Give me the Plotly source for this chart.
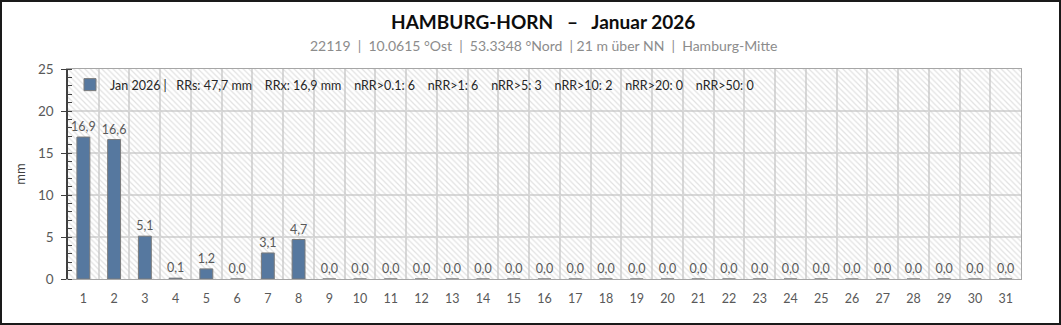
import plotly.graph_objects as go

days = list(range(1, 32))
rain = [16.9, 16.6, 5.1, 0.1, 1.2, 0.0, 3.1, 4.7, 0.0, 0.0,
        0.0, 0.0, 0.0, 0.0, 0.0, 0.0, 0.0, 0.0, 0.0, 0.0,
        0.0, 0.0, 0.0, 0.0, 0.0, 0.0, 0.0, 0.0, 0.0, 0.0, 0.0]
title = "HAMBURG-HORN \u00a0 \u2013 \u00a0 Januar 2026"
subtitle = "22119 \u00a0|\u00a0 10.0615 \u00b0Ost \u00a0|\u00a0 53.3348 \u00b0Nord \u00a0| 21 m \u00fcber NN \u00a0|\u00a0 Hamburg-Mitte"
legend_label = ("Jan 2026 | \u00a0 RRs: 47,7 mm \u00a0 \u00a0RRx: 16,9 mm \u00a0 \u00a0nRR>0.1: 6 \u00a0 \u00a0nRR>1: 6"
                " \u00a0 \u00a0nRR>5: 3 \u00a0 \u00a0nRR>10: 2 \u00a0 \u00a0nRR>20: 0 \u00a0 \u00a0nRR>50: 0")
y_title = "mm"

W, H = 1061, 325
ML, MR, MT, MB = 68, 40, 69, 46
PW, PH = W - ML - MR, H - MT - MB
FONT = "Lato"
GREY = "#595959"
CENTER_PX = 543

def px_x(px):
    return (px - ML) / PW

def px_y(py):
    return (H - MB - py) / PH

fig = go.Figure()

# hatched background on the (hidden) base subplot
fig.add_trace(go.Scatter(
    x=[0, 1, 1, 0, 0], y=[0, 0, 1, 1, 0], xaxis="x", yaxis="y",
    mode="lines", line=dict(width=0), fill="toself",
    fillcolor="rgba(0,0,0,0)",
    fillpattern=dict(shape="\\", fgcolor="#c4c4c4", bgcolor="rgba(0,0,0,0)",
                     size=4, solidity=0.3),
    hoverinfo="skip", showlegend=False))

fig.add_trace(go.Bar(
    x=days, y=rain, xaxis="x2", yaxis="y2", name=legend_label,
    marker=dict(color="#56789f", line=dict(color="#7a7a7a", width=1)),
    width=0.42,
    texttemplate="%{y:.1f}", textposition="outside", cliponaxis=False,
    constraintext="none",
    textfont=dict(family=FONT, size=12.5, color=GREY),
    showlegend=True))

fig.update_layout(
    width=W, height=H,
    margin=dict(l=ML, r=MR, t=MT, b=MB),
    paper_bgcolor="white", plot_bgcolor="white",
    separators=",.",
    font=dict(family=FONT, size=12, color=GREY),
    xaxis=dict(range=[0, 1], visible=True, showgrid=False, zeroline=False,
               showticklabels=False, ticks="", showline=False, fixedrange=True),
    yaxis=dict(range=[0, 1], showgrid=False, zeroline=False, side="right",
               showticklabels=False, ticks="", showline=True,
               linecolor="#a6a6a6", linewidth=1),
    xaxis2=dict(overlaying="x", side="bottom", range=[0.5, 31.5],
                tickmode="linear", tick0=1, dtick=1, showgrid=False,
                zeroline=False, showline=True, mirror=True,
                linecolor="#a6a6a6", linewidth=1, ticks="outside",
                ticklen=8, tickcolor="rgba(0,0,0,0)",
                tickfont=dict(family=FONT, size=12.5, color=GREY),
                minor=dict(tick0=0.5, dtick=1, showgrid=True,
                           gridcolor="#d9d9d9", gridwidth=1.5, ticks="")),
    yaxis2=dict(overlaying="y", side="left", range=[0, 25],
                tickmode="linear", tick0=0, dtick=5, showgrid=True,
                gridcolor="#d9d9d9", gridwidth=1.5, zeroline=False,
                showline=True, linecolor="#404040", linewidth=1.5,
                ticks="outside", ticklen=5, tickcolor="#404040",
                ticklabelstandoff=5,
                tickfont=dict(family=FONT, size=13.5, color=GREY),
                minor=dict(dtick=1, ticks="inside", ticklen=4,
                           tickcolor="#404040", showgrid=False),
                title=dict(text=y_title, standoff=9,
                           font=dict(family=FONT, size=13, color="#404040"))),
    barmode="overlay",
    legend=dict(x=px_x(70), y=px_y(70), xanchor="left", yanchor="top",
                bgcolor="rgba(0,0,0,0)", borderwidth=0,
                font=dict(family=FONT, size=12.5, color="#262626"),
                itemwidth=30),
    annotations=[
        dict(text="<b>" + title + "</b>", x=px_x(CENTER_PX), xref="paper",
             y=px_y(22), yref="paper", xanchor="center", yanchor="middle",
             showarrow=False,
             font=dict(family=FONT, size=19, color="#0d0d0d")),
        dict(text=subtitle, x=px_x(CENTER_PX), xref="paper",
             y=px_y(46), yref="paper", xanchor="center", yanchor="middle",
             showarrow=False,
             font=dict(family=FONT, size=14, color="#8c8c8c")),
    ],
    shapes=[dict(type="rect", xref="paper", yref="paper",
                 x0=px_x(1), x1=px_x(1060), y0=px_y(324), y1=px_y(1),
                 line=dict(color="#1a1a1a", width=2), layer="above")],
)

fig.write_html("out.html")
